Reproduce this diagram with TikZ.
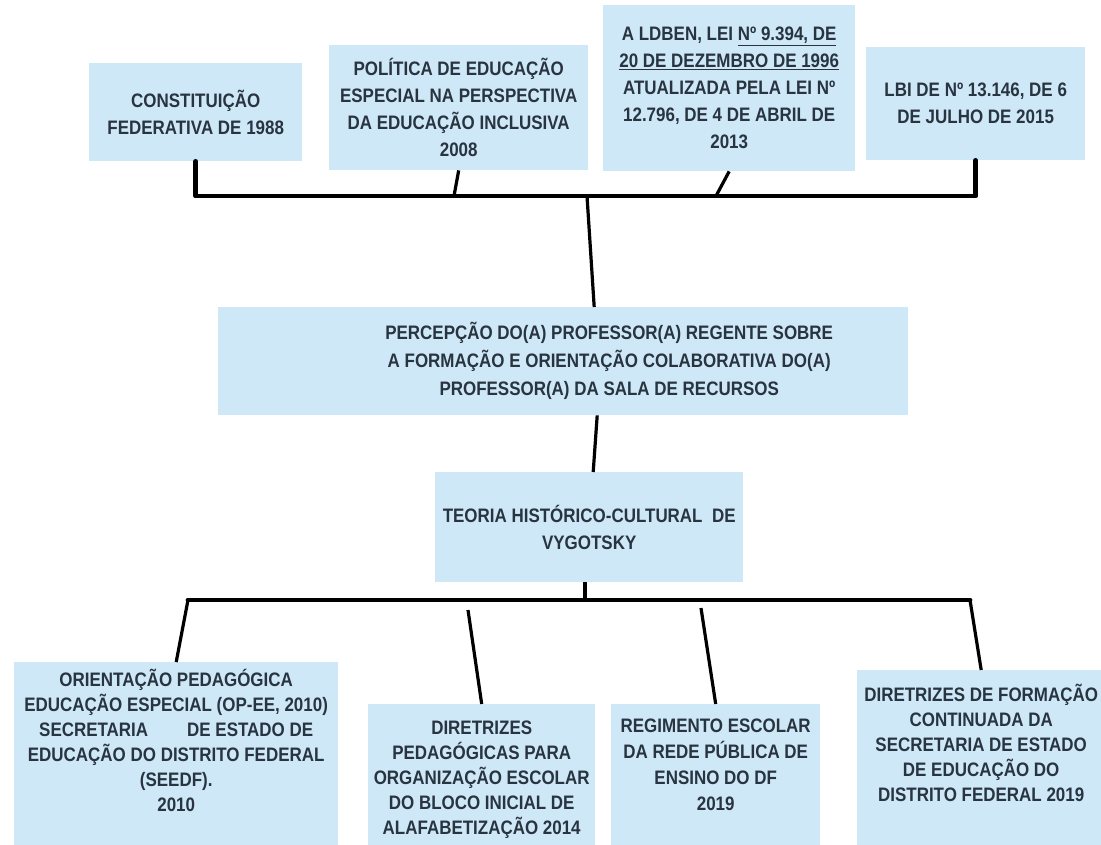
\documentclass[tikz,border=0pt]{standalone}
\usepackage{fontspec}
\setmainfont{Liberation Sans}[FakeStretch=0.87]
\usetikzlibrary{positioning}
\definecolor{caixaazul}{RGB}{207,232,248}
\definecolor{textoazul}{RGB}{40,52,64}

\begin{document}
\begin{tikzpicture}[x=1pt, y=-1pt,
    caixa/.style={fill=caixaazul, inner sep=0pt, anchor=north west, align=center,
        text=textoazul, font=\bfseries\fontsize{19.5}{27}\selectfont},
    texto/.style={inner sep=0pt, align=center, text=textoazul,
        font=\bfseries\fontsize{19.5}{25}\selectfont},
    barra/.style={line width=4.8pt, line cap=round, line join=round},
    haste/.style={line width=3.2pt}]
    \useasboundingbox (0,0) rectangle (1101,845);

    % marcos legais
    \node [caixa, minimum width=213pt, minimum height=98pt] (cf88) at (89,63) {CONSTITUIÇÃO\\FEDERATIVA DE 1988};
    \node [caixa, minimum width=259pt, minimum height=125pt] (pol08) at (329,45) {POLÍTICA DE EDUCAÇÃO\\ESPECIAL NA PERSPECTIVA\\DA EDUCAÇÃO INCLUSIVA\\2008};
    \node [caixa, minimum width=252pt, minimum height=166pt] (ldben) at (603,5) {A LDBEN, LEI \underline{Nº 9.394, DE}\\\underline{20 DE DEZEMBRO DE 1996}\\ATUALIZADA PELA LEI Nº\\12.796, DE 4 DE ABRIL DE\\2013};
    \node [caixa, minimum width=219pt, minimum height=113pt] (lbi) at (866,47) {LBI DE Nº 13.146, DE 6\\DE JULHO DE 2015};

    \coordinate (topo) at (587,196);
    \coordinate (tpol) at (454,196);
    \coordinate (tldb) at (716,196);
    \draw [barra] (cf88.south) |- (topo) -| (lbi.south);
    \draw [haste] (pol08.south) -- (tpol);
    \draw [haste] (ldben.south) -- (tldb);

    % tema central
    \node [caixa, minimum width=690pt, minimum height=108pt] (percepcao) at (218,307) {};
    \node [texto, font=\bfseries\fontsize{19.5}{28}\selectfont] (percepcaot) at ([xshift=46pt]percepcao.center) {PERCEPÇÃO DO(A) PROFESSOR(A) REGENTE SOBRE\\A FORMAÇÃO E ORIENTAÇÃO COLABORATIVA DO(A)\\PROFESSOR(A) DA SALA DE RECURSOS};
    \node [caixa, minimum width=308pt, minimum height=110pt] (teoria) at (435,472) {TEORIA HISTÓRICO-CULTURAL\ \ DE\\VYGOTSKY};

    \draw [haste] (topo) -- ([xshift=31pt]percepcao.north);
    \draw [haste] ([xshift=34pt]percepcao.south) -- ([xshift=4pt]teoria.north);

    % documentos do DF
    \node [caixa, minimum width=324pt, minimum height=200pt] (opee) at (14,662) {};
    \node [texto, below=7pt of opee.north] (opeet) {ORIENTAÇÃO PEDAGÓGICA\\EDUCAÇÃO ESPECIAL (OP-EE, 2010)\\SECRETARIA\hspace{2em}DE ESTADO DE\\EDUCAÇÃO DO DISTRITO FEDERAL\\(SEEDF).\\2010};
    \node [caixa, minimum width=227pt, minimum height=160pt] (dirpe) at (368,704) {};
    \node [texto, below=17pt of dirpe.north] (dirpet) {DIRETRIZES\\PEDAGÓGICAS PARA\\ORGANIZAÇÃO ESCOLAR\\DO BLOCO INICIAL DE\\ALAFABETIZAÇÃO 2014};
    \node [caixa, minimum width=209pt, minimum height=160pt] (regim) at (611,704) {};
    \node [texto, below=15pt of regim.north, font=\bfseries\fontsize{19.5}{26}\selectfont] (regimt) {REGIMENTO ESCOLAR\\DA REDE PÚBLICA DE\\ENSINO DO DF\\2019};
    \node [caixa, minimum width=248pt, minimum height=200pt] (dirfo) at (857,670) {};
    \node [texto, below=14pt of dirfo.north] (dirfot) {DIRETRIZES DE FORMAÇÃO\\CONTINUADA DA\\SECRETARIA DE ESTADO\\DE EDUCAÇÃO DO\\DISTRITO FEDERAL 2019};

    \coordinate (base) at (585,600);
    \coordinate (b0) at (188,600);
    \coordinate (b4) at (970,600);
    \coordinate (bdir) at (468,610);
    \coordinate (breg) at (701,608);
    \draw [haste] (teoria.south -| base) -- (base);
    \draw [barra] (b0) -- (b4);
    \draw [haste] (b0) -- (opee.north);
    \draw [haste] (bdir) -- (dirpe.north);
    \draw [haste] (breg) -- (regim.north);
    \draw [haste] (b4) -- (dirfo.north);
\end{tikzpicture}
\end{document}
